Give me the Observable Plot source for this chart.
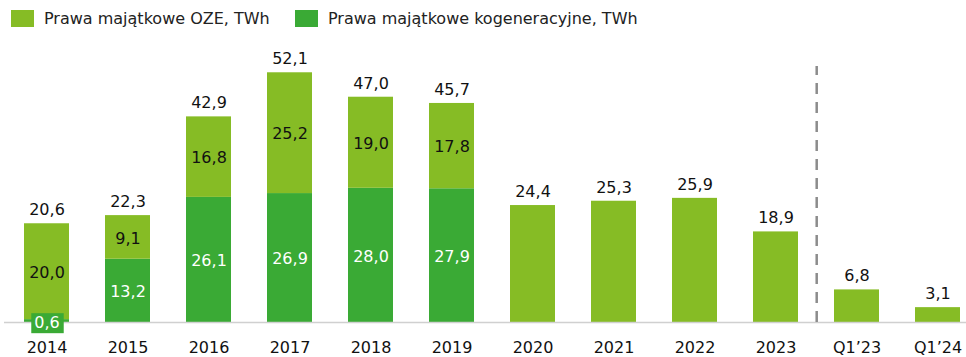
<!DOCTYPE html>
<html>
<head>
<meta charset="utf-8">
<script src="https://cdn.jsdelivr.net/npm/d3@7"></script>
<script src="https://cdn.jsdelivr.net/npm/@observablehq/plot@0.6"></script>
<style>
  body { margin: 0; background: #fff; font-family: "DejaVu Sans", Verdana, sans-serif; color: #222; }
  #legend { position: relative; height: 35px; }
  .item { position: absolute; top: 10px; display: flex; align-items: center; font-size: 16px; line-height: 17px; white-space: nowrap; }
  .sw { width: 23px; height: 17px; margin-right: 10px; }
  #chart svg { display: block; }
</style>
</head>
<body>
<div id="legend"></div>
<div id="chart"></div>
<script>
// Periods on the x axis
const periods = ["2014", "2015", "2016", "2017", "2018", "2019", "2020", "2021", "2022", "2023", "Q1’23", "Q1’24"];
// Property rights, renewables (OZE), TWh
const ozeTWh = [20.0, 9.1, 16.8, 25.2, 19.0, 17.8, 24.4, 25.3, 25.9, 18.9, 6.8, 3.1];
// Property rights, cogeneration, TWh (none after 2019)
const kogTWh = [0.6, 13.2, 26.1, 26.9, 28.0, 27.9, 0, 0, 0, 0, 0, 0];
// Totals printed above the bars
const totalTWh = [20.6, 22.3, 42.9, 52.1, 47.0, 45.7, 24.4, 25.3, 25.9, 18.9, 6.8, 3.1];

const seriesNames = ["Prawa majątkowe OZE, TWh", "Prawa majątkowe kogeneracyjne, TWh"];
const seriesColors = ["#86bc25", "#3aaa35"];

// Legend above the chart
const legend = document.getElementById("legend");
const legendX = [11, 295];
seriesNames.forEach((name, i) => {
  const it = document.createElement("div");
  it.className = "item";
  it.style.left = legendX[i] + "px";
  it.innerHTML = `<span class="sw" style="background:${seriesColors[i]}"></span><span>${name}</span>`;
  legend.appendChild(it);
});

// Long table: cogeneration first so it sits at the bottom of each stack
const rows = [];
periods.forEach((p, i) => {
  if (kogTWh[i] > 0) rows.push({period: p, series: seriesNames[1], value: kogTWh[i]});
});
periods.forEach((p, i) => {
  rows.push({period: p, series: seriesNames[0], value: ozeTWh[i]});
});

// Segment labels (midpoints of stacked segments), only for stacked years
const kogLabels = periods.map((p, i) => ({period: p, v: kogTWh[i], y: kogTWh[i] / 2}))
  .filter(d => d.v > 0);
const ozeLabels = periods.map((p, i) => ({period: p, v: ozeTWh[i], y: kogTWh[i] + ozeTWh[i] / 2}))
  .filter((d, i) => kogTWh[i] > 0);
const totals = periods.map((p, i) => ({period: p, v: totalTWh[i]}));
const fmt = v => v.toFixed(1).replace(".", ",");

const W = 966, H = 322;
const chart = Plot.plot({
  width: W,
  height: H,
  marginLeft: 22,
  marginRight: 4,
  marginTop: 9,
  marginBottom: 35,
  style: {fontFamily: "DejaVu Sans, Verdana, sans-serif", fontSize: "16px", color: "#222", background: "#fff"},
  x: {domain: periods, paddingInner: 0.45, paddingOuter: 0, label: null},
  y: {domain: [0, 58], axis: null},
  color: {domain: seriesNames, range: seriesColors},
  marks: [
    Plot.barY(rows, Plot.stackY({x: "period", y: "value", fill: "series", order: null})),
    Plot.ruleY([0], {stroke: "#d0d0d0", strokeWidth: 1.5, insetLeft: -18, insetRight: -4}),
    // separator between full years and first quarters
    Plot.ruleX(["2023"], {x: d => d, dx: 40.7, y1: 0, y2: 53.4, stroke: "#8c8c8c", strokeWidth: 2.5, strokeDasharray: "11,8"}),
    // cogeneration segment labels
    Plot.text(kogLabels.filter(d => d.v >= 1), {x: "period", y: "y", text: d => fmt(d.v), fill: "white", dy: 1}),
    Plot.text(kogLabels.filter(d => d.v < 1), {
      x: "period", y: "y", text: d => fmt(d.v), fill: "white", dy: 2,
      render(index, scales, values, dims, context, next) {
        const g = next(index, scales, values, dims, context);
        g.setAttribute("class", "boxed-label");
        return g;
      }
    }),
    // renewable segment labels
    Plot.text(ozeLabels, {x: "period", y: "y", text: d => fmt(d.v), fill: "#111", dy: 1}),
    // totals above bars
    Plot.text(totals, {x: "period", y: "v", text: d => fmt(d.v), fill: "#111", lineAnchor: "bottom", dy: -8.5}),
    Plot.axisX({tickSize: 0, tickPadding: 19, fontSize: 16, color: "#111"})
  ]
});
document.getElementById("chart").appendChild(chart);

// put a filled box behind the tiny segment label
chart.querySelectorAll("g.boxed-label text").forEach(t => {
  const b = t.getBBox();
  const r = document.createElementNS("http://www.w3.org/2000/svg", "rect");
  r.setAttribute("x", b.x - 3);
  r.setAttribute("y", b.y);
  r.setAttribute("width", b.width + 7);
  r.setAttribute("height", b.height + 1);
  r.setAttribute("fill", seriesColors[1]);
  const tr = t.getAttribute("transform");
  if (tr) r.setAttribute("transform", tr);
  t.parentNode.insertBefore(r, t);
});
</script>
</body>
</html>
